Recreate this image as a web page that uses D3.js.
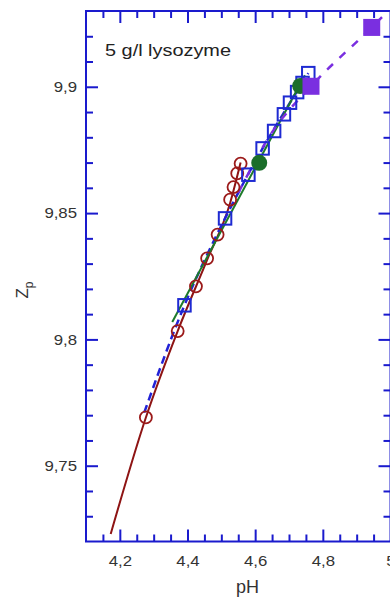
<!DOCTYPE html>
<html>
<head>
<meta charset="utf-8">
<script src="https://cdn.jsdelivr.net/npm/d3@7"></script>
<style>
  body { margin: 0; background: #fff; }
  svg { display: block; font-family: 'Liberation Sans', Arial, sans-serif; }
</style>
</head>
<body>
<div id="chart"></div>
<script>
// data (pH, Zp)
const circlePH = [4.277, 4.371, 4.425, 4.458, 4.489, 4.526, 4.536, 4.547, 4.557];
const circleZ = [9.7691, 9.8033, 9.8210, 9.8321, 9.8415, 9.8553, 9.8603, 9.8657, 9.8696];

const redFitPH = [4.173, 4.277, 4.371, 4.458, 4.526, 4.557];
const redFitZ = [9.7230, 9.7691, 9.8033, 9.8315, 9.8540, 9.8700];

const squarePH = [4.391, 4.511, 4.580, 4.622, 4.656, 4.685, 4.703, 4.724, 4.740, 4.757];
const squareZ = [9.8135, 9.8479, 9.8652, 9.8756, 9.8825, 9.8891, 9.8937, 9.8979, 9.9015, 9.9054];

const blueFitPH = [4.272, 4.391, 4.511, 4.622, 4.703, 4.757];
const blueFitZ = [9.7710, 9.8135, 9.8479, 9.8756, 9.8937, 9.9054];

const greenPH = [4.612, 4.733];
const greenZ = [9.8699, 9.9003];
const greenFitPH = [4.355, 4.747];
const greenFitZ = [9.8069, 9.9046];

const purplePH = [4.765, 4.9445];
const purpleZ = [9.9002, 9.9235];
const purpleFitPH = [4.55, 4.65, 4.765, 4.9445, 5.0];
const purpleFitZ = [9.8580, 9.8820, 9.9002, 9.9235, 9.9310];

const xMajor = [4.2, 4.4, 4.6, 4.8, 5.0];
const yMajor = [9.75, 9.8, 9.85, 9.9];

const W = 390, H = 598;
const margin = { left: 86, top: 11 };
const pw = 304.5, ph = 530.5;
const axisColor = '#1a1acd';
const textColor = '#333';

const x = d3.scaleLinear().domain([4.1, 5.0]).range([0, pw]);
const y = d3.scaleLinear().domain([9.72, 9.93]).range([ph, 0]);

const loc = d3.formatLocale({ decimal: ',', thousands: '.', grouping: [3], currency: ['', ''] });
const fmt = loc.format('.3~r');

const xMinor = d3.range(4.15, 5.0, 0.05).filter((v) => !xMajor.some((m) => Math.abs(m - v) < 1e-6));
const yMinor = d3.range(9.73, 9.93, 0.01).filter((v) => !yMajor.some((m) => Math.abs(m - v) < 1e-6));

const svg = d3.select('#chart').append('svg')
  .attr('width', W)
  .attr('height', H);

const g = svg.append('g')
  .attr('transform', `translate(${margin.left},${margin.top})`);

g.append('defs').append('clipPath').attr('id', 'plotclip')
  .append('rect').attr('width', pw).attr('height', ph);

// axes: ticks point inward
function styleAxis(sel) {
  sel.select('.domain').remove();
  sel.selectAll('.tick line').attr('stroke', axisColor).attr('stroke-width', 2);
  sel.selectAll('.tick text')
    .attr('fill', textColor)
    .style('font-size', '15px')
    .attr('transform', 'scale(1.12,1)');
}

g.append('g').attr('transform', `translate(0,${ph})`)
  .call(d3.axisBottom(x).tickValues(xMajor).tickSizeInner(-12).tickSizeOuter(0).tickPadding(14).tickFormat(fmt))
  .call(styleAxis);
g.append('g').attr('transform', `translate(0,${ph})`)
  .call(d3.axisBottom(x).tickValues(xMinor).tickSizeInner(-7).tickSizeOuter(0).tickFormat(''))
  .call(styleAxis);
g.append('g')
  .call(d3.axisTop(x).tickValues(xMajor).tickSizeInner(-12).tickSizeOuter(0).tickFormat(''))
  .call(styleAxis);
g.append('g')
  .call(d3.axisTop(x).tickValues(xMinor).tickSizeInner(-7).tickSizeOuter(0).tickFormat(''))
  .call(styleAxis);

g.append('g')
  .call(d3.axisLeft(y).tickValues(yMajor).tickSizeInner(-12).tickSizeOuter(0).tickPadding(8).tickFormat(fmt))
  .call(styleAxis);
g.append('g')
  .call(d3.axisLeft(y).tickValues(yMinor).tickSizeInner(-7).tickSizeOuter(0).tickFormat(''))
  .call(styleAxis);
g.append('g').attr('transform', `translate(${pw},0)`)
  .call(d3.axisRight(y).tickValues(yMajor).tickSizeInner(-12).tickSizeOuter(0).tickFormat(''))
  .call(styleAxis);
g.append('g').attr('transform', `translate(${pw},0)`)
  .call(d3.axisRight(y).tickValues(yMinor).tickSizeInner(-7).tickSizeOuter(0).tickFormat(''))
  .call(styleAxis);

g.append('rect')
  .attr('width', pw)
  .attr('height', ph)
  .attr('fill', 'none')
  .attr('stroke', axisColor)
  .attr('stroke-width', 2);

// fit lines
const line = d3.line().x((d) => x(d[0])).y((d) => y(d[1])).curve(d3.curveMonotoneX);
const lines = g.append('g').attr('clip-path', 'url(#plotclip)');

lines.append('path')
  .attr('d', line(d3.zip(redFitPH, redFitZ)))
  .attr('fill', 'none').attr('stroke', '#8e1414').attr('stroke-width', 2);

lines.append('path')
  .attr('d', line(d3.zip(blueFitPH, blueFitZ)))
  .attr('fill', 'none').attr('stroke', '#2222d6').attr('stroke-width', 2.5)
  .attr('stroke-dasharray', '8,5');

lines.append('path')
  .attr('d', line(d3.zip(greenFitPH, greenFitZ)))
  .attr('fill', 'none').attr('stroke', '#1d7a2a').attr('stroke-width', 2);

lines.append('path')
  .attr('d', line(d3.zip(purpleFitPH, purpleFitZ)))
  .attr('fill', 'none').attr('stroke', '#7a2fe0').attr('stroke-width', 2.5)
  .attr('stroke-dasharray', '8,9');

// markers
g.selectAll('.circ').data(d3.zip(circlePH, circleZ)).enter().append('circle')
  .attr('cx', (d) => x(d[0])).attr('cy', (d) => y(d[1])).attr('r', 6)
  .attr('fill', 'none').attr('stroke', '#9b1a1a').attr('stroke-width', 1.8);

const sq = 12.5;
g.selectAll('.sq').data(d3.zip(squarePH, squareZ)).enter().append('rect')
  .attr('x', (d) => x(d[0]) - sq / 2).attr('y', (d) => y(d[1]) - sq / 2)
  .attr('width', sq).attr('height', sq)
  .attr('fill', 'none').attr('stroke', '#1e2ad2').attr('stroke-width', 2);

g.selectAll('.gc').data(d3.zip(greenPH, greenZ)).enter().append('circle')
  .attr('cx', (d) => x(d[0])).attr('cy', (d) => y(d[1])).attr('r', 8)
  .attr('fill', '#1b6e2a');

const psq = 17;
g.selectAll('.ps').data(d3.zip(purplePH, purpleZ)).enter().append('rect')
  .attr('x', (d) => x(d[0]) - psq / 2).attr('y', (d) => y(d[1]) - psq / 2)
  .attr('width', psq).attr('height', psq)
  .attr('fill', '#7a2fe0');

// labels
svg.append('text')
  .attr('x', 105).attr('y', 56)
  .attr('fill', '#222')
  .style('font-size', '17px')
  .attr('textLength', 126)
  .attr('lengthAdjust', 'spacingAndGlyphs')
  .text('5 g/l lysozyme');

svg.append('text')
  .attr('x', 247.5).attr('y', 592.5)
  .attr('text-anchor', 'middle')
  .attr('fill', textColor)
  .style('font-size', '18px')
  .text('pH');

const yl = svg.append('text')
  .attr('transform', 'translate(28,290) rotate(-90)')
  .attr('text-anchor', 'middle')
  .attr('fill', textColor)
  .style('font-size', '17px');
yl.append('tspan').text('Z');
yl.append('tspan').attr('dy', 5).style('font-size', '12px').text('p');
</script>
</body>
</html>
